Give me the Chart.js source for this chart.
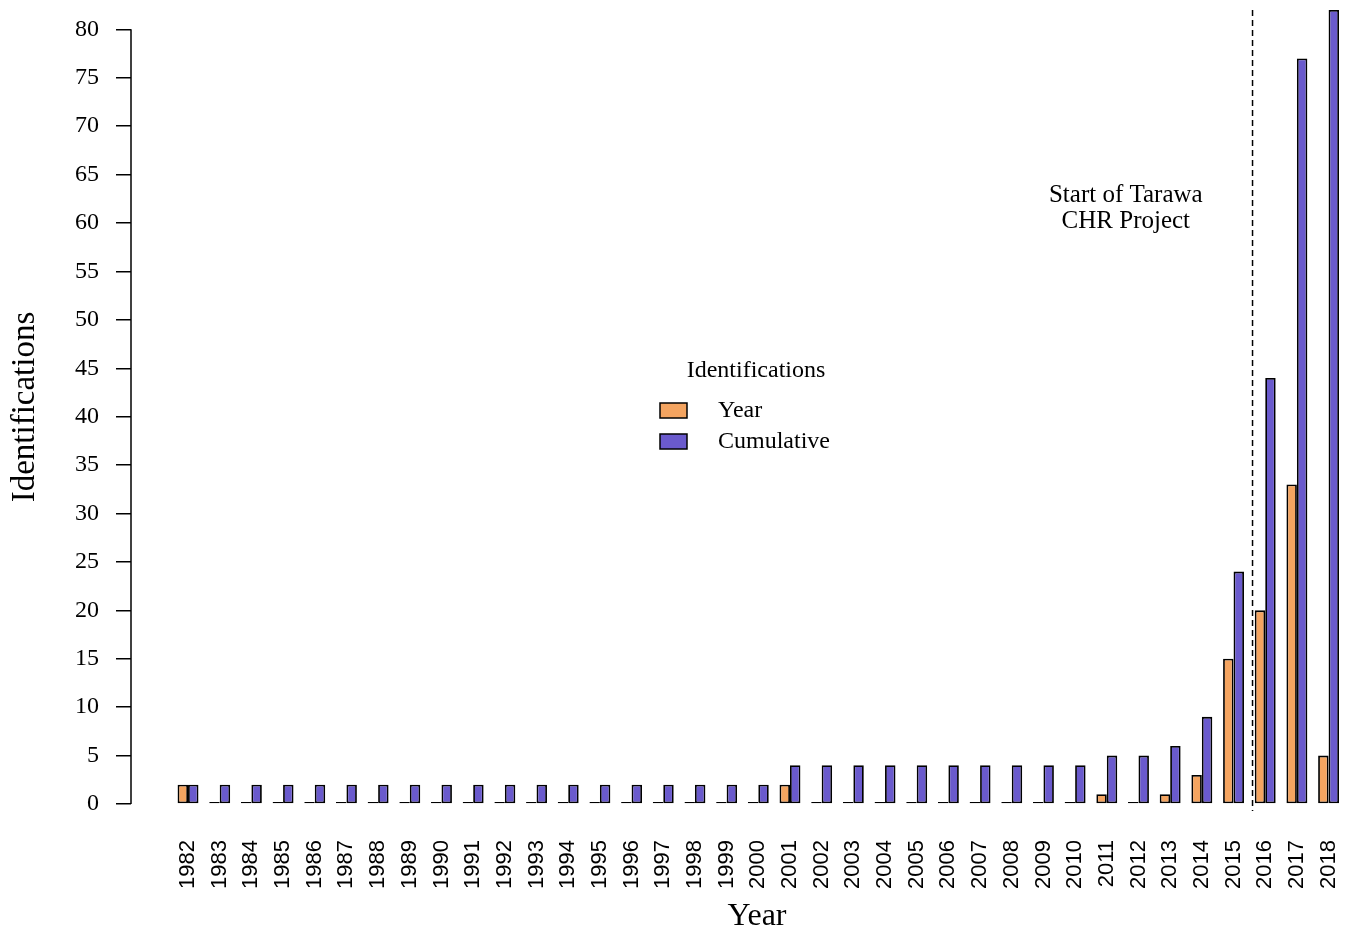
<!DOCTYPE html>
<html>
<head>
<meta charset="utf-8">
<title>Identifications per year</title>
<script src="https://cdn.jsdelivr.net/npm/chart.js@4.4.1/dist/chart.umd.min.js"></script>
<style>
  html, body { margin: 0; padding: 0; background: #fff; }
  #wrap { width: 1349px; height: 935px; position: relative; }
</style>
</head>
<body>
<div id="wrap"><canvas id="idChart"></canvas></div>
<script>
// Years on the x axis
const years = [1982,1983,1984,1985,1986,1987,1988,1989,1990,1991,1992,1993,1994,1995,1996,1997,1998,1999,2000,
               2001,2002,2003,2004,2005,2006,2007,2008,2009,2010,2011,2012,2013,2014,2015,2016,2017,2018];

// Identifications made in each year
const yearly = [2,0,0,0,0,0,0,0,0,0,0,0,0,0,0,0,0,0,0,
                2,0,0,0,0,0,0,0,0,0,1,0,1,3,15,20,33,5];

// Running total of identifications
const cumulative = [2,2,2,2,2,2,2,2,2,2,2,2,2,2,2,2,2,2,2,
                    4,4,4,4,4,4,4,4,4,4,5,5,6,9,24,44,77,82];

// Where the Tarawa CHR project starts (between 2015 and 2016)
const projectStart = 2015.6;
const projectNote = ['Start of Tarawa', 'CHR Project'];

const serif = '"Liberation Serif", "Times New Roman", serif';
const sans = '"Liberation Sans", Arial, sans-serif';

// y axis line only spans 0..80, like an R plot; plus marker, note, legend and x title
const extras = {
    id: 'extras',
    afterDraw(chart) {
        const ctx = chart.ctx;
        const y = chart.scales.y;
        const x = chart.scales.x;
        const left = chart.chartArea.left;
        ctx.save();
        ctx.strokeStyle = '#000';
        ctx.lineWidth = 1.5;
        ctx.beginPath();
        ctx.moveTo(left, y.getPixelForValue(0));
        ctx.lineTo(left, y.getPixelForValue(80));
        ctx.stroke();

        // dashed marker for the project start
        const px = x.getPixelForValue(projectStart);
        ctx.setLineDash([6, 4]);
        ctx.beginPath();
        ctx.moveTo(px, y.getPixelForValue(82));
        ctx.lineTo(px, y.getPixelForValue(0) + 7);
        ctx.stroke();
        ctx.setLineDash([]);

        // note to the left of the marker
        ctx.fillStyle = '#000';
        ctx.font = '25px ' + serif;
        ctx.textAlign = 'center';
        ctx.textBaseline = 'middle';
        const noteX = x.getPixelForValue(2011.6);
        ctx.fillText(projectNote[0], noteX, y.getPixelForValue(62.8));
        ctx.fillText(projectNote[1], noteX, y.getPixelForValue(60.2));

        // x axis title
        ctx.font = '32px ' + serif;
        ctx.fillText('Year', 757, 917);

        // legend in the middle of the plot
        const lx = 660, ly = 371;
        ctx.font = '24px ' + serif;
        ctx.fillText('Identifications', 756, ly);
        chart.data.datasets.forEach((ds, i) => {
            const by = 403 + i * 31;
            ctx.fillStyle = ds.backgroundColor;
            ctx.fillRect(lx, by, 27, 15);
            ctx.strokeStyle = '#000';
            ctx.lineWidth = 1.5;
            ctx.strokeRect(lx, by, 27, 15);
            ctx.fillStyle = '#000';
            ctx.textAlign = 'left';
            ctx.fillText(ds.label, 718, by + 8);
        });
        ctx.restore();
    }
};

const ctx = document.getElementById('idChart').getContext('2d');
new Chart(ctx, {
    type: 'bar',
    data: {
        datasets: [{
            label: 'Year',
            data: years.map((yr, i) => ({ x: yr, y: yearly[i] })),
            backgroundColor: '#F4A460',
            borderColor: '#000',
            borderWidth: 1.8,
            borderSkipped: false,
            minBarLength: 2
        }, {
            label: 'Cumulative',
            data: years.map((yr, i) => ({ x: yr, y: cumulative[i] })),
            backgroundColor: '#6A5ACD',
            borderColor: '#000',
            borderWidth: 1.8,
            borderSkipped: false,
            minBarLength: 2
        }]
    },
    options: {
        responsive: true,
        maintainAspectRatio: false,
        animation: false,
        devicePixelRatio: 1,
        categoryPercentage: 0.66,
        barPercentage: 1,
        layout: { padding: { top: 10, right: 3, left: 0, bottom: 0 } },
        plugins: {
            legend: { display: false },
            tooltip: { enabled: false }
        },
        scales: {
            x: {
                type: 'linear',
                offset: false,
                min: 1980.2,
                max: 2018.55,
                grid: { display: false, drawTicks: false, offset: false },
                border: { display: false },
                afterBuildTicks: scale => { scale.ticks = years.map(v => ({ value: v })); },
                afterFit: scale => {
                    scale.height = 131;
                    scale.paddingLeft = 0;
                    scale.paddingRight = 0;
                },
                ticks: {
                    autoSkip: false,
                    minRotation: 90,
                    maxRotation: 90,
                    padding: 36,
                    color: '#000',
                    font: { family: sans, size: 22 },
                    callback: v => String(v)
                }
            },
            y: {
                min: 0,
                max: 82,
                grid: {
                    drawOnChartArea: false,
                    drawTicks: true,
                    tickLength: 15,
                    tickColor: '#000',
                    lineWidth: 1.5
                },
                border: { display: false },
                afterFit: scale => {
                    scale.width = 131;
                    scale.paddingTop = 0;
                    scale.paddingBottom = 0;
                },
                ticks: {
                    stepSize: 5,
                    includeBounds: false,
                    padding: 17,
                    color: '#000',
                    font: { family: serif, size: 24 }
                },
                title: {
                    display: true,
                    text: 'Identifications',
                    color: '#000',
                    font: { family: serif, size: 33 },
                    padding: { top: 6, bottom: 0 }
                }
            }
        }
    },
    plugins: [extras]
});
</script>
</body>
</html>
